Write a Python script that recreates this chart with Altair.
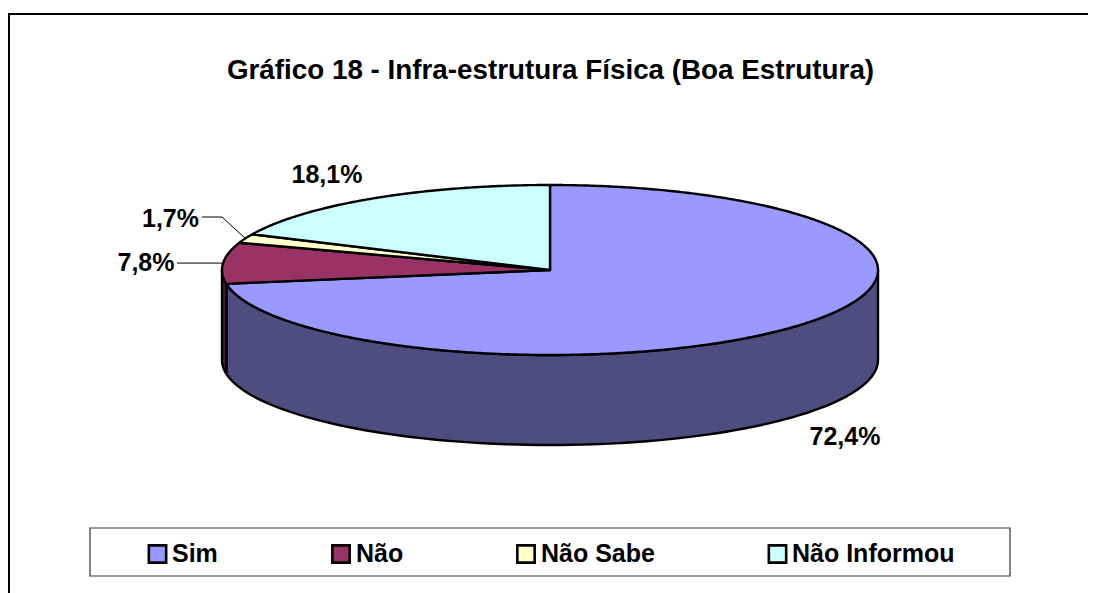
import numpy as np
import pandas as pd
import altair as alt

categories = ["Sim", "Não", "Não Sabe", "Não Informou"]
shares = [72.4, 7.8, 1.7, 18.1]
labels = ["72,4%", "7,8%", "1,7%", "18,1%"]
colors = ["#9999FF", "#993366", "#FFFFCC", "#CCFFFF"]
side_colors = ["#4D4D80", "#4D1A33", "#808066", "#668080"]
title = "Gráfico 18 - Infra-estrutura Física (Boa Estrutura)"

CX, CY, RX, RY, DEPTH = 550, 270, 328, 85, 90
W, H = 1080, 585
xs = alt.Scale(domain=[8, 8 + W], range=[0, W])
ys = alt.Scale(domain=[8, 8 + H], range=[0, H])
X = lambda f="x": alt.X(f"{f}:Q", scale=xs, axis=None)
Y = lambda f="y": alt.Y(f"{f}:Q", scale=ys, axis=None)


def rim(deg, drop=0.0):
    t = np.radians(deg)
    return CX + RX * np.sin(t), CY - RY * np.cos(t) + drop


def poly(px, py, fill, width=2.4):
    df = pd.DataFrame({"x": px, "y": py, "i": range(len(px))})
    return alt.Chart(df).mark_line(
        fill=fill, stroke="black", strokeWidth=width, strokeJoin="round", interpolate="linear-closed"
    ).encode(x=X(), y=Y(), order="i:Q")


cum = np.cumsum([0] + shares) * 3.6
layers = []

# side walls: the visible part of the front half of the disc
for k in range(len(shares)):
    a, b = max(cum[k], 90), min(cum[k + 1], 270)
    if b <= a:
        continue
    th = np.linspace(a, b, 90)
    tx, ty = rim(th)
    bx, by = rim(th[::-1], DEPTH)
    layers.append(poly(np.r_[tx, bx], np.r_[ty, by], side_colors[k]))

# top faces
for k in range(len(shares)):
    th = np.linspace(cum[k], cum[k + 1], max(4, int(cum[k + 1] - cum[k]) * 2))
    tx, ty = rim(th)
    layers.append(poly(np.r_[CX, tx], np.r_[CY, ty], colors[k]))


def line(px, py, width=1):
    df = pd.DataFrame({"x": px, "y": py, "i": range(len(px))})
    return alt.Chart(df).mark_line(color="black", strokeWidth=width).encode(x=X(), y=Y(), order="i:Q")


# leader lines, ending at the middle of their slices
mid = (cum[:-1] + cum[1:]) / 2
mx, my = rim(mid[1])
layers.append(line([177, mx], [my, my]))
mx, my = rim(mid[2])
layers.append(line([202, 222, mx], [217, 217, my]))

# data labels
lab = pd.DataFrame({"t": labels, "x": [845, 146, 170.5, 327], "y": [437, 263, 219, 175]})
layers.append(
    alt.Chart(lab).mark_text(font="Liberation Sans", fontWeight="bold", fontSize=25, color="black")
    .encode(x=X(), y=Y(), text="t:N")
)

# title
layers.append(
    alt.Chart(pd.DataFrame({"t": [title], "x": [550.5], "y": [71]}))
    .mark_text(font="Liberation Sans", fontWeight="bold", fontSize=27.8, color="black")
    .encode(x=X(), y=Y(), text="t:N")
)

# legend box and entries
box = pd.DataFrame({"x": [90], "x2": [1010], "y": [528], "y2": [576]})
layers.append(
    alt.Chart(box).mark_rect(fill="white", stroke="#333333", strokeWidth=1.2)
    .encode(x=X(), x2="x2:Q", y=Y(), y2="y2:Q")
)
leg = pd.DataFrame({"c": categories, "x": [157.5, 341, 526, 777.5], "y": [554] * 4, "tx": [172, 356, 541, 792]})
layers.append(
    alt.Chart(leg).mark_square(size=300, stroke="black", strokeWidth=2.6, opacity=1)
    .encode(x=X(), y=Y(), fill=alt.Fill("c:N", scale=alt.Scale(domain=categories, range=colors), legend=None))
)
layers.append(
    alt.Chart(leg).mark_text(font="Liberation Sans", fontWeight="bold", fontSize=25, color="black", align="left")
    .encode(x=X("tx"), y=Y(), text="c:N")
)

# outer frame (its right and bottom edges fall outside the picture)
layers.append(line([9, 9, 1096], [593, 14, 14], width=2))

chart = (
    alt.layer(*layers)
    .properties(width=W, height=H, padding=0, autosize=alt.AutoSizeParams(type="none"))
    .configure(background="white")
    .configure_view(stroke=None)
)
chart.save("out.html", embed_options={"renderer": "svg", "actions": False})
